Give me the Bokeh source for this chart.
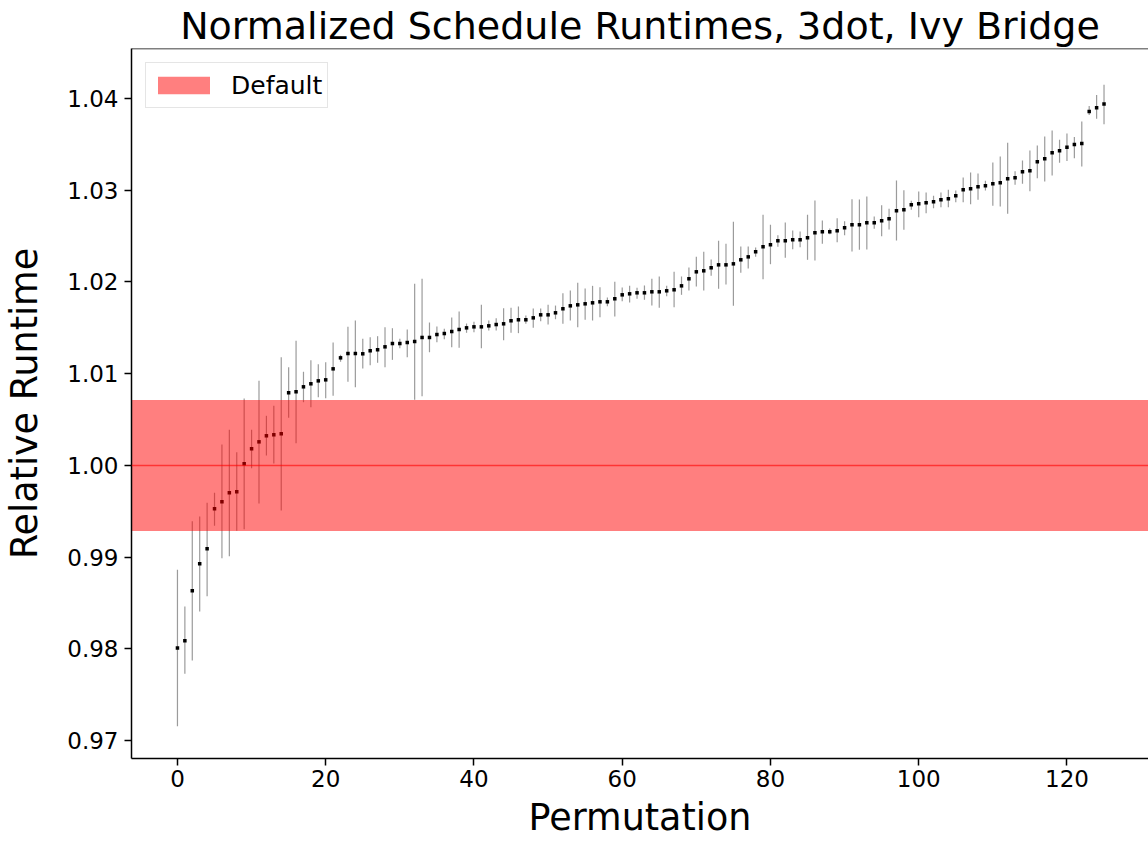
from bokeh.plotting import figure
from bokeh.models import Range1d, FixedTicker, PrintfTickFormatter, Span, Legend, LegendItem
from bokeh.embed import file_html
from bokeh.resources import INLINE

permutation = list(range(126))
runtime_mean = [
    0.98010, 0.98088, 0.98633, 0.98927, 0.99091, 0.99527, 0.99603, 0.99701, 0.99712, 1.00017,
    1.00181, 1.00257, 1.00323, 1.00334, 1.00345, 1.00792, 1.00803, 1.00857, 1.00890, 1.00922,
    1.00933, 1.01053, 1.01173, 1.01220, 1.01220, 1.01217, 1.01250, 1.01261, 1.01293, 1.01329,
    1.01329, 1.01340, 1.01351, 1.01395, 1.01395, 1.01427, 1.01438, 1.01460, 1.01482, 1.01500,
    1.01511, 1.01511, 1.01522, 1.01536, 1.01544, 1.01577, 1.01588, 1.01588, 1.01609, 1.01642,
    1.01642, 1.01664, 1.01708, 1.01740, 1.01751, 1.01762, 1.01773, 1.01784, 1.01784, 1.01817,
    1.01860, 1.01871, 1.01882, 1.01882, 1.01893, 1.01893, 1.01904, 1.01915, 1.01958, 1.02035,
    1.02111, 1.02122, 1.02155, 1.02187, 1.02187, 1.02198, 1.02242, 1.02274, 1.02329, 1.02383,
    1.02405, 1.02449, 1.02449, 1.02460, 1.02460, 1.02482, 1.02536, 1.02547, 1.02547, 1.02558,
    1.02591, 1.02624, 1.02624, 1.02645, 1.02645, 1.02667, 1.02689, 1.02776, 1.02787, 1.02842,
    1.02853, 1.02863, 1.02874, 1.02896, 1.02907, 1.02940, 1.03005, 1.03016, 1.03038, 1.03049,
    1.03071, 1.03082, 1.03125, 1.03136, 1.03201, 1.03212, 1.03310, 1.03343, 1.03408, 1.03430,
    1.03470, 1.03500, 1.03510, 1.03860, 1.03900, 1.03940,
]
runtime_low = [
    0.97156, 0.97728, 0.97873, 0.98407, 0.98574, 0.99341, 0.98988, 0.99010, 0.99287, 0.99304,
    0.99970, 0.99585, 1.00108, 1.00021, 0.99508, 1.00519, 1.00242, 1.00689, 1.00635, 1.00744,
    1.00733, 1.00759, 1.01130, 1.00912, 1.00853, 1.01057, 1.01093, 1.01119, 1.01071, 1.01151,
    1.01278, 1.01180, 1.00715, 1.00755, 1.01234, 1.01344, 1.01376, 1.01289, 1.01282, 1.01446,
    1.01452, 1.01278, 1.01471, 1.01471, 1.01365, 1.01446, 1.01442, 1.01544, 1.01500, 1.01573,
    1.01536, 1.01594, 1.01544, 1.01580, 1.01507, 1.01588, 1.01580, 1.01616, 1.01736, 1.01624,
    1.01791, 1.01776, 1.01817, 1.01806, 1.01744, 1.01718, 1.01845, 1.01725, 1.01860, 1.01907,
    1.01951, 1.01907, 1.02067, 1.01926, 1.01973, 1.01740, 1.02100, 1.02147, 1.02274, 1.02031,
    1.02194, 1.02383, 1.02263, 1.02357, 1.02379, 1.02242, 1.02234, 1.02416, 1.02521, 1.02434,
    1.02510, 1.02332, 1.02351, 1.02354, 1.02580, 1.02499, 1.02572, 1.02452, 1.02570, 1.02787,
    1.02706, 1.02750, 1.02805, 1.02815, 1.02815, 1.02870, 1.02870, 1.02848, 1.02896, 1.02998,
    1.02831, 1.02822, 1.02743, 1.03060, 1.03071, 1.02990, 1.03132, 1.03096, 1.03162, 1.03300,
    1.03320, 1.03350, 1.03260, 1.03820, 1.03780, 1.03720,
]
runtime_high = [
    0.98862, 0.98461, 0.99392, 0.99443, 0.99592, 0.99701, 1.00228, 1.00388, 1.00144, 1.00729,
    1.00388, 1.00922, 1.00541, 1.00650, 1.01180, 1.01071, 1.01359, 1.01021, 1.01147, 1.01103,
    1.01125, 1.01340, 1.01206, 1.01511, 1.01580, 1.01380, 1.01398, 1.01409, 1.01507, 1.01496,
    1.01380, 1.01482, 1.01980, 1.02035, 1.01558, 1.01515, 1.01489, 1.01613, 1.01678, 1.01547,
    1.01566, 1.01751, 1.01580, 1.01605, 1.01714, 1.01718, 1.01733, 1.01635, 1.01711, 1.01711,
    1.01751, 1.01743, 1.01878, 1.01907, 1.01991, 1.01929, 1.01958, 1.01943, 1.01831, 1.02002,
    1.01940, 1.01958, 1.01937, 1.01962, 1.02035, 1.02060, 1.01958, 1.02111, 1.02060, 1.02157,
    1.02274, 1.02329, 1.02245, 1.02449, 1.02416, 1.02656, 1.02387, 1.02387, 1.02376, 1.02733,
    1.02624, 1.02510, 1.02649, 1.02561, 1.02550, 1.02733, 1.02888, 1.02670, 1.02583, 1.02695,
    1.02663, 1.02903, 1.02899, 1.02932, 1.02714, 1.02837, 1.02798, 1.03107, 1.03000, 1.02885,
    1.02987, 1.02976, 1.02940, 1.02976, 1.03005, 1.02998, 1.03139, 1.03194, 1.03183, 1.03103,
    1.03303, 1.03368, 1.03518, 1.03208, 1.03325, 1.03434, 1.03488, 1.03586, 1.03652, 1.03550,
    1.03620, 1.03580, 1.03750, 1.03920, 1.04040, 1.04150,
]
default_center = 1.0
default_halfwidth = 0.00714
x_ticks = [0, 20, 40, 60, 80, 100, 120]
y_ticks = [0.97, 0.98, 0.99, 1.00, 1.01, 1.02, 1.03, 1.04]

FONT = "DejaVu Sans"
y_top = 1.04546
y_bottom = 0.96804

p = figure(width=1148, height=844, output_backend="svg", toolbar_location=None,
           x_range=Range1d(-6.2, 131.0), y_range=Range1d(y_bottom, y_top),
           min_border_left=131, min_border_right=0, min_border_top=48, min_border_bottom=86,
           outline_line_color=None, background_fill_color="white", border_fill_color="white")

p.title.text = "Normalized Schedule Runtimes, 3dot, Ivy Bridge"
p.title.align = "center"
p.title.text_font = FONT
p.title.text_font_size = "38px"
p.title.text_font_style = "normal"
p.title.text_color = "black"
p.title.standoff = 2

p.xgrid.grid_line_color = None
p.ygrid.grid_line_color = None

for ax in (p.xaxis[0], p.yaxis[0]):
    ax.axis_line_width = 1.5
    ax.axis_line_color = "black"
    ax.major_tick_line_width = 1.5
    ax.major_tick_line_color = "black"
    ax.major_tick_out = 7
    ax.major_tick_in = 0
    ax.minor_tick_line_color = None
    ax.major_label_text_font = FONT
    ax.major_label_text_font_size = "23px"
    ax.major_label_text_color = "black"
    ax.axis_label_text_font = FONT
    ax.axis_label_text_font_size = "36.5px"
    ax.axis_label_text_font_style = "normal"
    ax.axis_label_text_color = "black"

p.xaxis.ticker = FixedTicker(ticks=x_ticks)
p.yaxis.ticker = FixedTicker(ticks=y_ticks)
p.yaxis.formatter = PrintfTickFormatter(format="%.2f")
p.xaxis.axis_label = "Permutation"
p.yaxis.axis_label = "Relative Runtime"
p.xaxis.major_label_standoff = 4
p.yaxis.major_label_standoff = 6
p.xaxis.axis_label_standoff = 6
p.yaxis.axis_label_standoff = 18

# top spine
p.add_layout(Span(location=y_top, dimension="width", line_color="black", line_width=1.5))

# error bars and points
p.segment(x0=permutation, y0=runtime_low, x1=permutation, y1=runtime_high,
          line_color="#8a8a8a", line_width=1.2, line_alpha=0.85)
p.scatter(x=permutation, y=runtime_mean, marker="square", size=3.5,
          fill_color="black", line_color=None)

# default band
band = p.hbar(y=[default_center], height=[2 * default_halfwidth], left=[-50], right=[300],
              fill_color="red", fill_alpha=0.5, line_color=None)
p.add_layout(Span(location=default_center, dimension="width", line_color="red",
                  line_alpha=0.6, line_width=1.5))

legend = Legend(items=[LegendItem(label="Default", renderers=[band])], location="top_left")
legend.label_text_font = FONT
legend.label_text_font_size = "25px"
legend.label_text_color = "black"
legend.glyph_width = 65
legend.glyph_height = 22
legend.label_height = 34
legend.label_standoff = 15
legend.padding = 5
legend.margin = 14
legend.spacing = 0
legend.border_line_color = "#cccccc"
legend.border_line_width = 1.5
legend.background_fill_alpha = 0.8
p.add_layout(legend)

open("out.html", "w").write(file_html(p, INLINE))
